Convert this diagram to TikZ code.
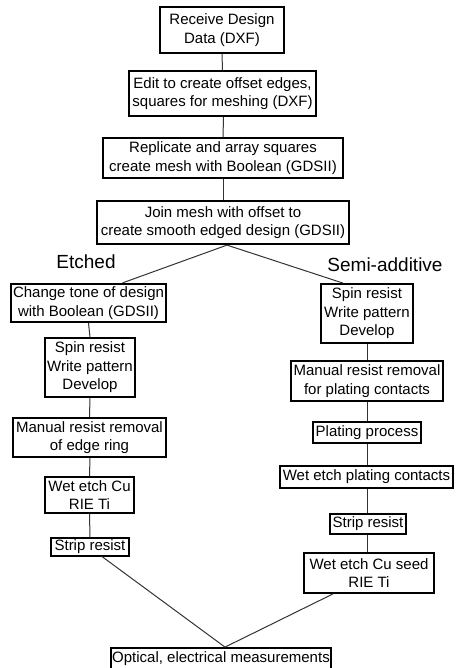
\documentclass[tikz,border=0pt]{standalone}
\usepackage{fontspec}
\setmainfont{Liberation Sans}
\tikzset{
  box/.style={draw=black, line width=2.2pt, inner sep=0pt, align=center, font=\fontsize{15}{18.5}\selectfont},
  thinbox/.style={box, line width=1.1pt},
  conn/.style={draw=black!80, line width=1pt},
  lab/.style={font=\fontsize{19}{22}\selectfont, inner sep=0pt}
}
\begin{document}
\begin{tikzpicture}[x=1pt,y=-1pt]
\useasboundingbox (0,0) rectangle (456,668);
% main column
\node[box, minimum width=124pt, minimum height=46pt] (B1) at (222,30) {Receive Design\\Data (DXF)};
\node[box, minimum width=187pt, minimum height=45pt] (B2) at (222.5,93.5) {Edit to create offset edges,\\squares for meshing (DXF)};
\node[thinbox, minimum width=240pt, minimum height=40pt] (B3) at (223,158) {Replicate and array squares\\create mesh with Boolean (GDSII)};
\node[box, minimum width=252pt, minimum height=43pt] (B4) at (223,222.5) {Join mesh with offset to\\create smooth edged design (GDSII)};
% labels
\node[lab] (E) at (86,262) {Etched};
\node[lab] (S) at (385,265) {Semi-additive};
% left column
\node[box, minimum width=155pt, minimum height=38pt] (L1) at (88.5,303) {Change tone of design\\with Boolean (GDSII)};
\node[box, line width=1.8pt, minimum width=90pt, minimum height=59pt] (L2) at (90,367.5) {Spin resist\\Write pattern\\Develop};
\node[box, minimum width=153pt, minimum height=39pt] (L3) at (89.5,437.5) {Manual resist removal\\of edge ring};
\node[box, line width=1.8pt, minimum width=89pt, minimum height=36pt] (L4) at (89.5,495) {Wet etch Cu\\RIE Ti};
\node[thinbox, minimum width=78pt, minimum height=18pt] (L5) at (90,547) {Strip resist};
% right column
\node[box, line width=1.8pt, minimum width=92pt, minimum height=59pt] (R1) at (367,313.5) {Spin resist\\Write pattern\\Develop};
\node[box, minimum width=152pt, minimum height=40pt] (R2) at (367,381) {Manual resist removal\\for plating contacts};
\node[thinbox, minimum width=108pt, minimum height=21pt] (R3) at (367,432.5) {Plating process};
\node[box, line width=1.8pt, minimum width=173pt, minimum height=22pt] (R4) at (366.5,477) {Wet etch plating contacts};
\node[thinbox, minimum width=76pt, minimum height=20pt] (R5) at (368,524) {Strip resist};
\node[box, line width=1.8pt, minimum width=130pt, minimum height=40pt] (R6) at (369,573) {Wet etch Cu seed\\RIE Ti};
% final
\node[box, line width=1.8pt, minimum width=220pt, minimum height=21pt] (M) at (221,658.5) {Optical, electrical measurements};
% connectors
\draw[conn] (B1.south) -- (B2.north);
\draw[conn] ([xshift=1pt]B2.south) -- ([xshift=0pt]B3.north);
\draw[conn] (B3.south) -- (B4.north);
\draw[conn] ([xshift=4pt]B4.south) -- ([xshift=34pt]L1.north);
\draw[conn] ([xshift=4pt]B4.south) -- ([xshift=-24pt]R1.north);
\draw[conn] (L1.south) -- (L2.north);
\draw[conn] (L2.south) -- (L3.north);
\draw[conn] ([xshift=0.5pt]L3.south) -- (L4.north);
\draw[conn] (L4.south) -- (L5.north);
\draw[conn] (R1.south) -- (R2.north);
\draw[conn] (R2.south) -- (R3.north);
\draw[conn] (R3.south) -- ([xshift=0.5pt]R4.north);
\draw[conn] ([xshift=0.5pt]R4.south) -- ([xshift=-1pt]R5.north);
\draw[conn] ([xshift=-1pt]R5.south) -- ([xshift=-2pt]R6.north);
\draw[conn] ([xshift=12pt]L5.south) -- ([xshift=4pt]M.north);
\draw[conn] ([xshift=-36pt]R6.south) -- ([xshift=4pt]M.north);
\end{tikzpicture}
\end{document}
